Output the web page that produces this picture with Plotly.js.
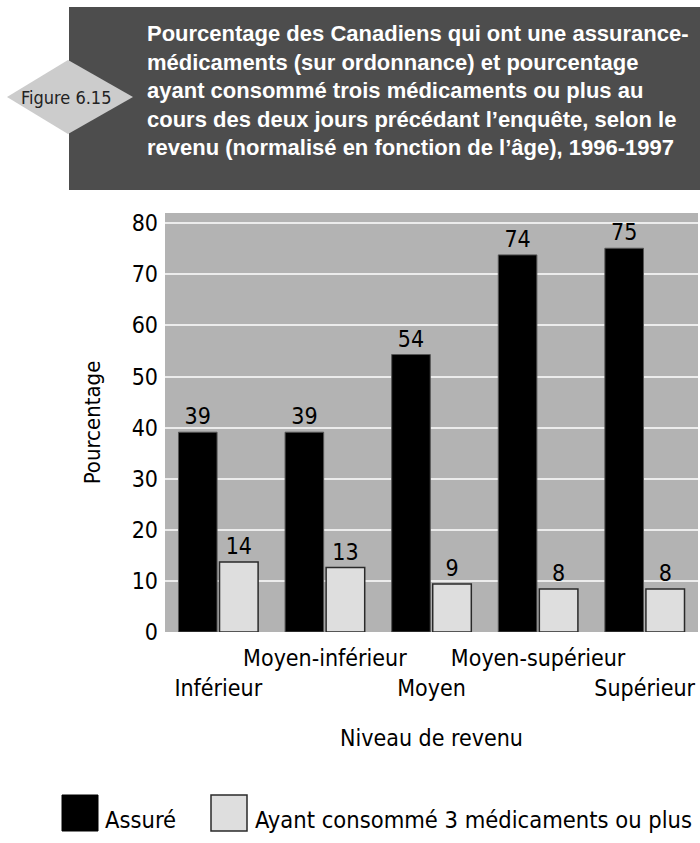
<!DOCTYPE html>
<html>
<head>
<meta charset="utf-8">
<script src="https://cdn.plot.ly/plotly-3.0.1.min.js"></script>
<style>html,body{margin:0;padding:0;background:#fff;}#chart{width:700px;height:843px;}</style>
</head>
<body>
<div id="chart"></div>
<script>
// Data
const categories = ['Inférieur', 'Moyen-inférieur', 'Moyen', 'Moyen-supérieur', 'Supérieur'];
const insured = [39.1, 39.1, 54.3, 73.8, 75.1];
const threeOrMore = [13.7, 12.6, 9.4, 8.4, 8.4];
const seriesNames = ['Assuré', 'Ayant consommé 3 médicaments ou plus'];
const yTicks = [0, 10, 20, 30, 40, 50, 60, 70, 80];
const titleLines = [
  'Pourcentage des Canadiens qui ont une assurance-',
  'médicaments (sur ordonnance) et pourcentage',
  'ayant consommé trois médicaments ou plus au',
  'cours des deux jours précédant l’enquête, selon le',
  'revenu (normalisé en fonction de l’âge), 1996-1997'
];
const figureLabel = 'Figure 6.15';
const xTitle = 'Niveau de revenu';
const yTitle = 'Pourcentage';

// Layout geometry (pixels)
const W = 700, H = 843;
const L = 165, R = 698, T = 213, B = 632;
const pw = R - L, ph = B - T;
const px = v => (v - L) / pw;
const py = v => (B - v) / ph;

const FONT = 'DejaVu Sans Condensed, Liberation Sans Narrow, sans-serif';
const FONT_B = 'Liberation Sans, Arial, sans-serif';

// Alternate tick label rows
const tickText = categories.map((c, i) => i % 2 === 1 ? c + '<br> ' : ' <br>' + c);

const traces = [
  {
    type: 'bar', name: seriesNames[0], x: categories, y: insured,
    marker: {color: '#000000', line: {color: '#555555', width: 1}},
    texttemplate: '%{y:.0f}', textposition: 'outside', cliponaxis: false,
    textfont: {family: FONT, size: 23, color: '#000'},
    showlegend: false, hoverinfo: 'x+y'
  },
  {
    type: 'bar', name: seriesNames[1], x: categories, y: threeOrMore,
    marker: {color: '#dedede', line: {color: '#2a2a2a', width: 1.5}},
    texttemplate: '%{y:.0f}', textposition: 'outside', cliponaxis: false,
    textfont: {family: FONT, size: 23, color: '#000'},
    showlegend: false, hoverinfo: 'x+y'
  }
];

const shapes = [
  // title box
  {type: 'rect', xref: 'paper', yref: 'paper', x0: px(69), x1: px(700), y0: py(190), y1: py(7),
   fillcolor: '#4d4d4d', line: {width: 0}, layer: 'above'},
  // diamond
  {type: 'path', xref: 'paper', yref: 'paper',
   path: `M ${px(7)} ${py(97)} L ${px(68)} ${py(60)} L ${px(133)} ${py(97)} L ${px(68)} ${py(134)} Z`,
   fillcolor: '#cccccc', line: {width: 0}, layer: 'above'},
  // legend swatches
  {type: 'rect', xref: 'paper', yref: 'paper', x0: px(62), x1: px(98), y0: py(831), y1: py(795),
   fillcolor: '#000000', line: {color: '#000', width: 1}, layer: 'above'},
  {type: 'rect', xref: 'paper', yref: 'paper', x0: px(211), x1: px(247), y0: py(831), y1: py(795),
   fillcolor: '#dedede', line: {color: '#2a2a2a', width: 1.5}, layer: 'above'}
];

const annotations = [
  {xref: 'paper', yref: 'paper', x: px(145), y: py(90), xanchor: 'left', yanchor: 'middle', align: 'left',
   text: '<b>' + titleLines.join('<br>') + '</b>', showarrow: false,
   font: {family: FONT_B, size: 22, color: '#ffffff'}},
  {xref: 'paper', yref: 'paper', x: px(66), y: py(97), xanchor: 'center', yanchor: 'middle',
   text: figureLabel, showarrow: false, font: {family: FONT, size: 18, color: '#222'}},
  {xref: 'paper', yref: 'paper', x: px(103), y: py(820), xanchor: 'left', yanchor: 'middle',
   text: seriesNames[0], showarrow: false, font: {family: FONT, size: 23.5, color: '#000'}},
  {xref: 'paper', yref: 'paper', x: px(253), y: py(820), xanchor: 'left', yanchor: 'middle',
   text: seriesNames[1], showarrow: false, font: {family: FONT, size: 23.5, color: '#000'}}
];

const layout = {
  width: W, height: H,
  margin: {l: L, r: W - R, t: T, b: H - B, pad: 0},
  paper_bgcolor: '#ffffff', plot_bgcolor: '#b3b3b3',
  barmode: 'group', bargap: 0.23, bargroupgap: 0.06,
  showlegend: false,
  xaxis: {
    type: 'category', tickmode: 'array', tickvals: categories, ticktext: tickText, tickangle: 0,
    tickfont: {family: FONT, size: 23, color: '#000'}, ticks: '', ticklabelstandoff: 10,
    showgrid: false, zeroline: false, showline: false, automargin: false,
    title: {text: xTitle, font: {family: FONT, size: 23, color: '#000'}, standoff: 29}
  },
  yaxis: {
    range: [0, 82], tickmode: 'array', tickvals: yTicks,
    tickfont: {family: FONT, size: 23, color: '#000'}, ticks: '', ticklabelstandoff: 6,
    showgrid: true, gridcolor: '#ececec', gridwidth: 1.5, zeroline: false, showline: false,
    automargin: false,
    title: {text: yTitle, font: {family: FONT, size: 22, color: '#000'}, standoff: 24}
  },
  shapes: shapes,
  annotations: annotations
};

Plotly.newPlot('chart', traces, layout, {displayModeBar: false, responsive: false});
</script>
</body>
</html>
